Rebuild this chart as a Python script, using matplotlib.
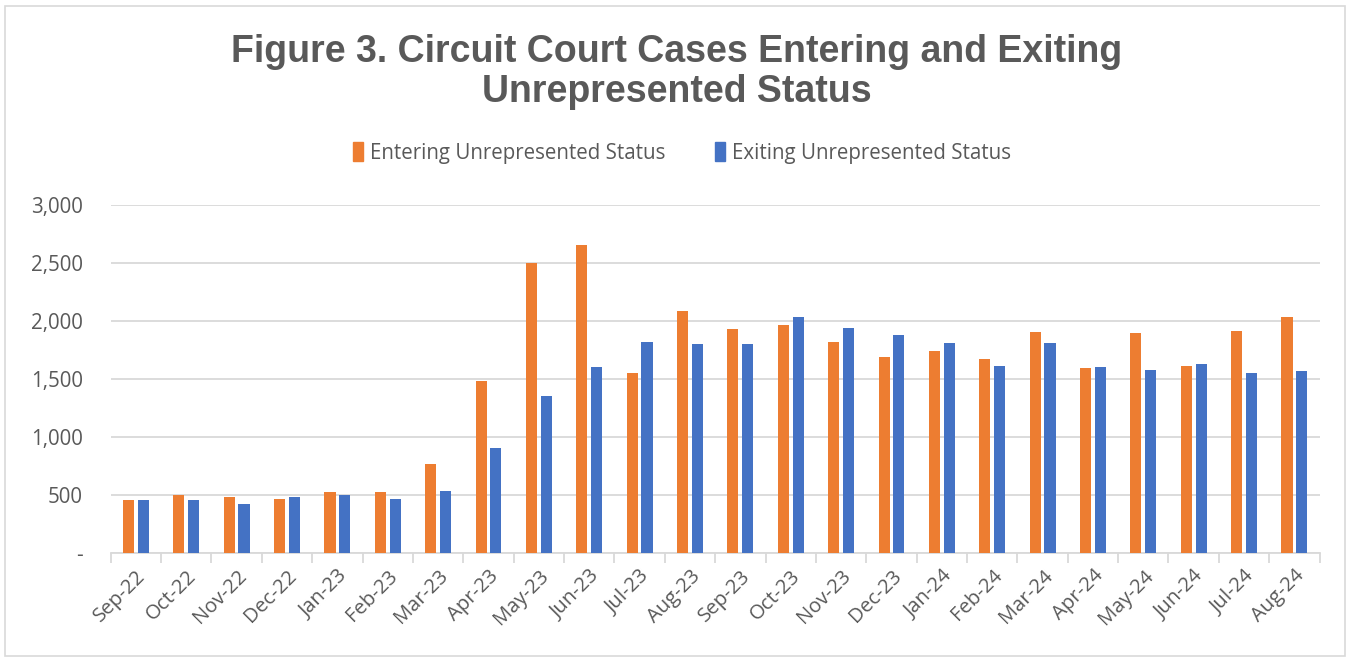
import matplotlib
matplotlib.use("Agg")
import matplotlib.pyplot as plt
import numpy as np
from matplotlib.patches import Rectangle, Patch

months = ["Sep-22", "Oct-22", "Nov-22", "Dec-22", "Jan-23", "Feb-23", "Mar-23", "Apr-23",
          "May-23", "Jun-23", "Jul-23", "Aug-23", "Sep-23", "Oct-23", "Nov-23", "Dec-23",
          "Jan-24", "Feb-24", "Mar-24", "Apr-24", "May-24", "Jun-24", "Jul-24", "Aug-24"]
entering = [455, 502, 482, 471, 531, 525, 769, 1487, 2500, 2656, 1556, 2087,
            1932, 1964, 1817, 1691, 1740, 1677, 1903, 1593, 1898, 1616, 1912, 2038]
exiting = [459, 456, 425, 488, 502, 465, 534, 904, 1352, 1608, 1817, 1806,
           1806, 2033, 1941, 1878, 1809, 1613, 1814, 1602, 1579, 1631, 1553, 1570]
yticks = [0, 500, 1000, 1500, 2000, 2500, 3000]
ytick_labels = ["-", "500", "1,000", "1,500", "2,000", "2,500", "3,000"]

ORANGE = "#ED7D31"
BLUE = "#4472C4"
GRAY = "#595959"
GRID = "#D9D9D9"
FONT = "Open Sans"

W, H = 1351, 658
fig = plt.figure(figsize=(W / 100, H / 100), dpi=100)
fig.patches.append(Rectangle((5 / W, 2 / H), (W - 11) / W, (H - 8) / H, transform=fig.transFigure,
                             fill=False, edgecolor="#D9D9D9", linewidth=1.2))

ax = fig.add_axes([110.7 / W, (H - 553.3) / H, (1319.6 - 110.7) / W, (553.3 - 205) / H])
x = np.arange(len(months))
bw = 0.22
off = 0.147
ax.bar(x - off, entering, width=bw, color=ORANGE, zorder=3, label="Entering Unrepresented Status")
ax.bar(x + off, exiting, width=bw, color=BLUE, zorder=3, label="Exiting Unrepresented Status")

ax.set_xlim(-0.5, len(months) - 0.5)
ax.set_ylim(0, 3000)
ax.set_yticks(yticks)
ax.set_yticklabels(ytick_labels, fontfamily=FONT, fontsize=14.8, color=GRAY)
ax.yaxis.grid(True, color=GRID, linewidth=1.3, zorder=0)
ax.tick_params(axis="y", length=0, pad=20)

ax.set_xticks(x)
ax.set_xticklabels(months, rotation=45, ha="right", rotation_mode="anchor",
                   fontfamily=FONT, fontsize=14.6, color=GRAY)
ax.set_xticks(np.arange(-0.5, len(months), 1), minor=True)
ax.tick_params(axis="x", which="major", length=0, pad=9)
ax.tick_params(axis="x", which="minor", length=7, color=GRID, width=1.3)

for s in ["top", "right", "left"]:
    ax.spines[s].set_visible(False)
ax.spines["bottom"].set_color(GRID)
ax.spines["bottom"].set_linewidth(1.3)
ax.set_axisbelow(True)

fig.text(0.501, (H - 62) / H, "Figure 3. Circuit Court Cases Entering and Exiting",
         ha="center", va="baseline", fontfamily="Liberation Sans", fontweight="bold",
         fontsize=27, color=GRAY)
fig.text(0.501, (H - 102) / H, "Unrepresented Status",
         ha="center", va="baseline", fontfamily="Liberation Sans", fontweight="bold",
         fontsize=27, color=GRAY)

handles = [Patch(color=ORANGE), Patch(color=BLUE)]
leg = fig.legend(handles, ["Entering Unrepresented Status", "Exiting Unrepresented Status"],
                 loc="center", bbox_to_anchor=(682 / W, (H - 153) / H), ncol=2, frameon=False,
                 prop={"family": FONT, "size": 14.8}, handlelength=0.5, handleheight=1.0,
                 handletextpad=0.35, columnspacing=2.4)
for t in leg.get_texts():
    t.set_color(GRAY)

fig.savefig("out.png", dpi=100)
